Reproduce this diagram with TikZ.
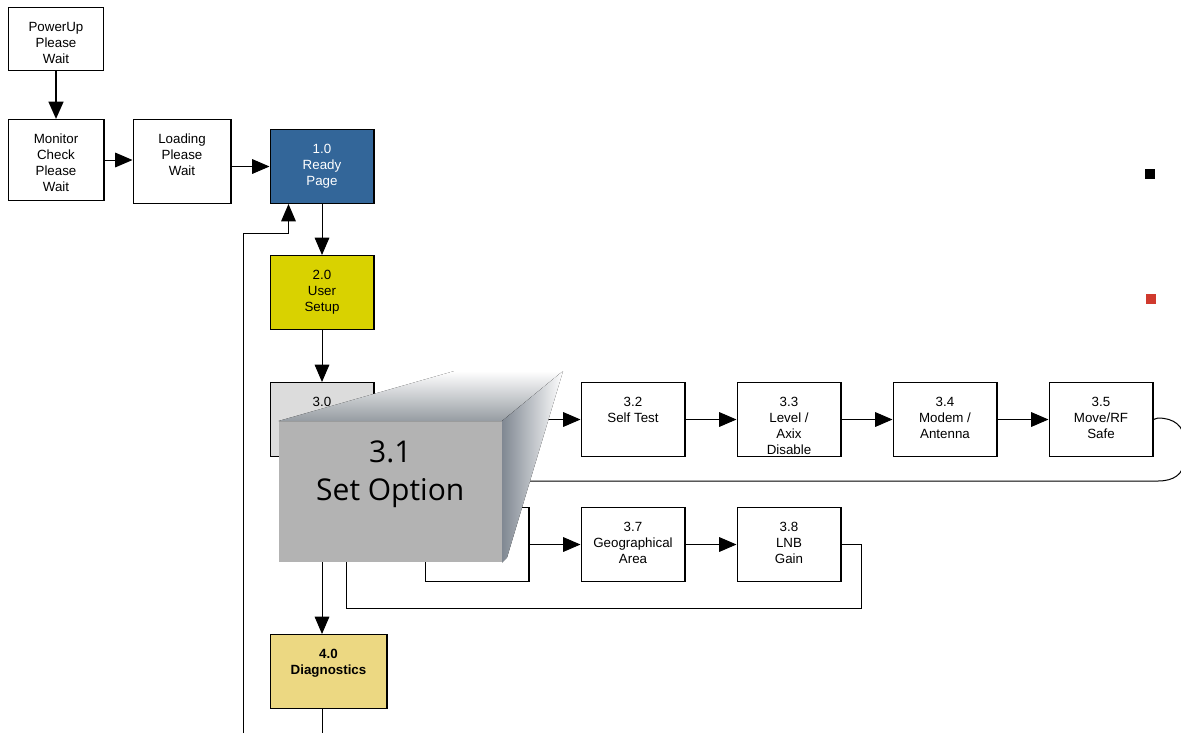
\documentclass[tikz,border=0pt]{standalone}
\usepackage{fontspec}
\setsansfont{Liberation Sans}
\newfontfamily\bigsans{Open Sans}
\usepackage{xcolor}
\usepackage{tikz}
\usetikzlibrary{arrows.meta,positioning,calc}

\definecolor{readyblue}{RGB}{51,102,153}
\definecolor{setupyellow}{RGB}{217,210,0}
\definecolor{optgray}{RGB}{220,220,220}
\definecolor{diagyellow}{RGB}{236,216,130}
\definecolor{callgray}{RGB}{179,179,179}
\definecolor{sidegray}{RGB}{128,136,146}
\definecolor{topgray}{RGB}{150,156,162}
\definecolor{markred}{RGB}{208,58,46}

% text lines hung from the top of a box
\newcommand{\toplines}[1]{\begin{tabular}[t]{@{}c@{}}#1\end{tabular}}

\begin{document}
\begin{tikzpicture}[x=0.75pt, y=-0.75pt,
  box/.style={draw, line width=0.9pt, font=\sffamily\fontsize{10}{12}\selectfont,
    minimum width=77.85pt, text height=18pt, text depth=37.35pt, inner sep=0pt},
  arrow/.style={-{Triangle[length=13pt,width=11pt]}, line width=0.75pt},
  wire/.style={line width=0.75pt},
  marker/.style={minimum size=7pt, inner sep=0pt}]

\clip (0,0) rectangle (1181,733);

% start-up chain
\node[box, anchor=north west, minimum width=71.1pt, text depth=29.1pt] (pwr) at (8,7)
  {\toplines{PowerUp\\ Please\\ Wait}};
\node[box, below=36pt of pwr, minimum width=71.85pt, text depth=42.6pt] (mon)
  {\toplines{Monitor\\ Check\\ Please\\ Wait}};
\node[box, right=21pt of mon, yshift=-1.125pt, minimum width=73.35pt, text depth=44.85pt] (load)
  {\toplines{Loading\\ Please\\ Wait}};
\node[box, right=28.5pt of load, yshift=-3.75pt, fill=readyblue, text=white] (ready)
  {\toplines{1.0\\ Ready\\ Page}};
\node[box, below=38.25pt of ready, fill=setupyellow] (user)
  {\toplines{2.0\\ User\\ Setup}};
\node[box, below=39pt of user, fill=optgray] (sec) {3.0};

% option row
\node[box, right=154.5pt of sec] (s32) {\toplines{3.2\\ Self Test}};
\node[box, right=38.25pt of s32] (s33) {\toplines{3.3\\ Level /\\ Axix\\ Disable}};
\node[box, right=38.25pt of s33] (s34) {\toplines{3.4\\ Modem /\\ Antenna}};
\node[box, right=38.25pt of s34] (s35) {\toplines{3.5\\ Move/RF\\ Safe}};
\node[box, below=37.5pt of s32] (s37) {\toplines{3.7\\ Geographical\\ Area}};
\node[box, left=38.25pt of s37] (s36) {};
\node[box, right=38.25pt of s37] (s38) {\toplines{3.8\\ LNB\\ Gain}};

\node[box, below=132.75pt of sec.south west, anchor=north west, minimum width=87.6pt,
  fill=diagyellow, font=\sffamily\bfseries\fontsize{10}{12}\selectfont] (diag)
  {\toplines{4.0\\ Diagnostics}};

\node[marker, fill=black] (mk1) at (1150,174) {};
\node[marker, fill=markred, minimum size=7.5pt] (mk2) at (1151,299) {};

\coordinate (ret) at (243,733);
\coordinate (retup) at (243,233);
\coordinate (in32) at ($(s32.west)+(-45,0)$);
\coordinate (lp5) at (520,481);
\coordinate (lp8) at (346,540);

\draw[arrow, line width=1.8pt] (pwr) -- (mon);
\draw[arrow] (mon) -- (mon -| load.west);
\draw[arrow] (load.east |- ready) -- (ready);
\draw[arrow] (ready) -- (user);
\draw[arrow] (user) -- (sec);
\draw[arrow] (sec.south) -- (sec.south |- diag.north);
\draw[wire] (sec.south |- diag.south) -- (sec.south |- ret);
\draw[arrow] (ret) -- (retup) -| ($(ready.south west)+(19,0)$);

\draw[arrow] (in32) -- (s32);
\draw[arrow] (s32) -- (s33);
\draw[arrow] (s33) -- (s34);
\draw[arrow] (s34) -- (s35);
\draw[arrow] (s36) -- (s37);
\draw[arrow] (s37) -- (s38);

\draw[wire] (s35.east) -- (1158,418) .. controls (1174,418) and (1184,426) .. (1184,440)
  -- (1184,460) .. controls (1184,474) and (1174,481) .. (1158,481) -- (lp5);
\draw[wire] (s38.east) -- ++(20,0) -- ++(0,64) -| (lp8);

% 3.1 pop-out
\node[fill=callgray, anchor=north west, minimum width=167.25pt, minimum height=105.75pt,
  inner sep=0pt, font=\bigsans\fontsize{22.5}{28.5}\selectfont] (opt) at ($(sec.north west)+(9,39)$)
  {\raisebox{8.5pt}[0pt][0pt]{\begin{tabular}{@{}c@{}}3.1\\ Set Option\end{tabular}}};
\fill[top color=white, bottom color=topgray] (opt.north west) -- ++(176,-50)
  -- ($(opt.north east)+(61,-50)$) -- (opt.north east) -- cycle;
\fill[left color=sidegray, right color=white] (opt.north east) -- ++(61,-50)
  -- ($(opt.south east)+(5,-5)$) -- (opt.south east) -- cycle;
\end{tikzpicture}
\end{document}
